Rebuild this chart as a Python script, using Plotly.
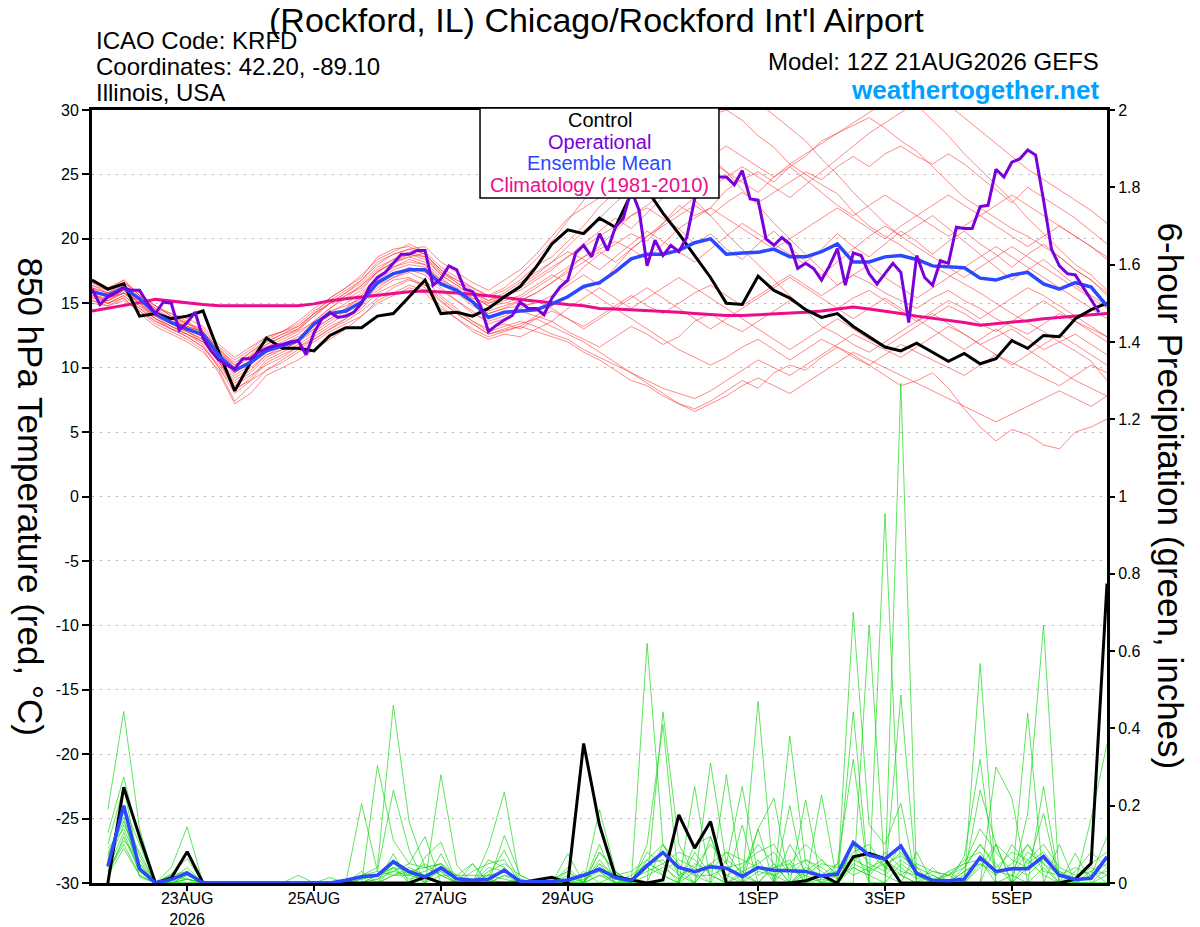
import pandas as pd
import plotly.graph_objects as go

# ---- data (6-hourly from 12Z 21 Aug 2026) ----
control_temp = [16.8, 16.1, 16.5, 14.0, 14.2, 13.8, 14.0, 14.4, 11.2, 8.2,
                10.4, 12.3, 11.5, 11.5, 11.3, 12.5, 13.1, 13.1, 14.0, 14.2,
                15.5, 16.8, 14.2, 14.3, 14.0, 14.6, 15.5, 16.3, 17.8, 19.6,
                20.7, 20.4, 21.6, 20.9, 23.5, 23.8, 22.0, 20.4, 18.7, 17.0,
                15.0, 14.9, 17.1, 16.0, 15.4, 14.5, 13.9, 14.2, 13.2, 12.4,
                11.6, 11.3, 11.9, 11.2, 10.5, 11.1, 10.3, 10.7, 12.1, 11.5,
                12.5, 12.4, 13.8, 14.5, 15.0]

mean_temp = [15.9, 15.6, 16.2, 15.35, 14.2, 13.5, 13.0, 12.55, 10.95, 9.8,
             10.4, 11.3, 11.7, 12.1, 13.4, 14.2, 14.4, 15.1, 16.6, 17.3,
             17.6, 17.6, 16.5, 16.0, 15.1, 13.9, 14.3, 14.4, 14.5, 14.95,
             15.5, 16.3, 16.6, 17.45, 18.45, 18.8, 18.8, 19.1, 19.7, 20.0,
             18.8, 18.9, 18.95, 19.2, 18.6, 18.6, 19.0, 19.6, 18.2, 18.2,
             18.6, 18.7, 18.4, 17.9, 17.8, 17.75, 16.95, 16.8, 17.2, 17.4,
             16.5, 16.1, 16.6, 16.25, 14.8]

clim_temp = [14.4, 14.6, 14.85, 15.05, 15.3, 15.15, 15.0, 14.9, 14.8, 14.8,
             14.8, 14.8, 14.8, 14.8, 14.95, 15.2, 15.35, 15.5, 15.6, 15.75,
             15.9, 15.95, 15.9, 15.8, 15.7, 15.6, 15.45, 15.3, 15.15, 15.0,
             14.9, 14.8, 14.6, 14.55, 14.5, 14.45, 14.4, 14.3, 14.2, 14.1,
             14.05, 14.05, 14.1, 14.15, 14.2, 14.3, 14.4, 14.55, 14.7, 14.55,
             14.4, 14.2, 14.0, 13.85, 13.65, 13.5, 13.3, 13.4, 13.55, 13.65,
             13.8, 13.9, 14.0, 14.1, 14.2]

# operational run is 3-hourly
oper_temp = [16.1, 14.9, 15.5, 15.8, 16.2, 16.0, 16.0, 15.0, 14.2, 15.1,
             15.0, 12.9, 13.5, 14.3, 12.3, 11.3, 10.6, 10.2, 9.9, 10.7,
             10.7, 11.2, 11.5, 11.7, 11.8, 12.0, 12.1, 11.0, 12.7, 13.8,
             14.3, 13.9, 14.0, 14.3, 15.0, 16.3, 17.0, 17.4, 18.1, 18.8,
             18.8, 19.1, 19.1, 16.4, 16.9, 17.9, 17.6, 16.1, 15.9, 14.8,
             12.8, 13.3, 13.7, 14.05, 15.1, 14.6, 14.6, 14.1, 15.4, 16.25,
             16.8, 18.9, 19.5, 18.6, 20.4, 19.1, 20.9, 21.6, 23.8, 22.2,
             17.9, 19.9, 18.7, 19.5, 19.0, 20.1, 23.1, 26.0, 27.0, 24.8,
             24.8, 24.2, 25.3, 23.1, 23.0, 20.0, 19.5, 20.1, 19.6, 17.7,
             18.1, 17.7, 16.8, 17.9, 19.25, 16.4, 18.9, 18.7, 17.3, 16.5,
             17.3, 18.1, 17.4, 13.5, 18.7, 17.0, 16.4, 18.3, 18.1, 20.9,
             20.8, 20.8, 22.5, 22.6, 25.4, 24.8, 25.95, 26.2, 26.9, 26.5,
             23.0, 19.2, 17.9, 17.3, 17.2, 16.25, 15.3, 14.3]

# ensemble members, 850 hPa temperature
temp_m01 = [16.2, 15.4, 16.0, 15.0, 14.5, 13.6, 13.2, 12.8, 11.5, 10.2, 10.9, 11.8, 12.4,
            12.9, 14.0, 15.0, 15.3, 16.0, 17.5, 18.1, 18.6, 18.9, 17.4, 16.8, 16.2, 15.5,
            16.0, 16.8, 17.9, 18.6, 19.8, 21.0, 22.5, 23.6, 24.8, 26.0, 27.2, 28.1, 29.0,
            29.6, 30.0, 29.2, 28.0, 27.1, 25.8, 25.0, 24.2, 23.5, 22.1, 21.0, 20.2, 19.5,
            18.6, 17.9, 17.2, 16.5, 15.8, 15.0, 14.2, 13.5, 12.8, 12.0, 11.3, 10.5, 9.0]
temp_m02 = [15.5, 15.0, 15.6, 14.6, 13.6, 13.0, 12.4, 11.6, 10.2, 8.6, 9.4, 10.2, 10.8,
            11.6, 12.2, 13.0, 13.8, 14.6, 15.8, 16.4, 16.9, 16.2, 15.1, 14.2, 13.4, 12.6,
            12.9, 13.2, 12.8, 12.4, 12.0, 11.2, 10.6, 9.8, 9.0, 8.6, 7.8, 7.2, 6.8,
            7.4, 8.2, 9.0, 8.4, 9.6, 10.2, 9.8, 10.8, 11.6, 11.0, 10.2, 9.4, 8.6,
            9.0, 9.6, 8.4, 6.8, 5.4, 4.3, 5.2, 4.8, 4.0, 3.7, 5.0, 5.4, 6.0]
temp_m03 = [16.8, 16.2, 16.6, 15.8, 14.8, 14.0, 13.5, 12.6, 11.0, 9.6, 10.6, 11.6, 12.2,
            12.8, 13.6, 14.6, 15.6, 16.4, 17.6, 18.4, 19.0, 18.6, 17.2, 16.4, 15.6, 14.8,
            15.2, 15.6, 16.4, 17.2, 16.6, 17.8, 18.8, 19.6, 20.4, 19.8, 21.2, 22.6, 21.8,
            22.4, 23.8, 24.6, 25.2, 24.4, 25.6, 26.4, 27.6, 28.2, 29.0, 29.8, 30.6, 31.2,
            30.4, 29.2, 28.0, 26.6, 25.4, 24.2, 23.0, 21.6, 20.4, 19.2, 18.0, 17.2, 16.0]
temp_m04 = [15.2, 14.8, 15.4, 14.2, 13.2, 12.6, 12.0, 11.2, 9.8, 7.4, 8.6, 9.8, 10.4,
            11.2, 12.0, 12.8, 13.4, 14.0, 15.0, 15.6, 16.2, 15.8, 14.6, 13.8, 12.8, 12.2,
            12.6, 12.4, 13.0, 13.6, 12.8, 12.2, 11.6, 12.4, 13.2, 12.6, 11.8, 12.4, 13.6,
            14.2, 13.4, 12.8, 13.6, 14.4, 15.2, 14.6, 13.8, 14.6, 15.4, 16.0, 15.2, 14.4,
            13.6, 14.2, 13.4, 12.6, 11.8, 12.4, 13.0, 12.2, 11.4, 12.0, 12.6, 11.8, 11.0]
temp_m05 = [16.4, 16.0, 16.8, 15.6, 14.6, 14.2, 13.8, 13.2, 11.8, 10.8, 11.6, 12.4, 12.8,
            13.4, 14.4, 15.2, 16.0, 16.8, 18.0, 18.8, 19.2, 19.4, 18.2, 17.4, 16.6, 16.0,
            16.8, 17.6, 18.8, 20.2, 21.6, 22.4, 23.2, 24.6, 23.8, 24.6, 25.4, 24.2, 23.0,
            21.8, 20.4, 19.2, 18.0, 16.8, 15.6, 14.4, 13.2, 12.6, 11.8, 11.2, 12.0, 12.8,
            13.6, 14.4, 15.2, 14.6, 13.8, 14.6, 15.4, 16.2, 15.6, 14.8, 14.0, 13.2, 12.4]
temp_m06 = [15.8, 15.2, 16.0, 15.0, 14.0, 13.2, 12.8, 12.2, 10.4, 9.0, 9.8, 11.0, 11.6,
            12.2, 13.0, 13.8, 14.6, 15.6, 17.0, 17.8, 18.2, 18.0, 16.6, 15.8, 15.0, 14.4,
            14.8, 15.2, 15.8, 16.6, 17.6, 18.6, 19.4, 20.6, 21.8, 22.6, 23.6, 24.4, 25.2,
            26.0, 25.2, 24.4, 23.6, 24.8, 25.8, 26.6, 27.4, 28.2, 28.8, 29.4, 28.6, 27.6,
            26.8, 25.6, 24.4, 23.2, 22.4, 21.6, 20.8, 20.2, 19.4, 18.6, 17.6, 16.8, 15.8]
temp_m07 = [16.0, 15.6, 16.4, 15.2, 14.4, 13.8, 13.0, 12.4, 11.0, 9.4, 10.2, 11.4, 11.6,
            12.2, 13.4, 14.4, 14.8, 15.4, 16.8, 17.6, 18.0, 17.8, 16.8, 16.2, 15.2, 14.2,
            14.6, 14.8, 15.0, 15.6, 16.4, 17.2, 16.4, 17.8, 19.2, 18.4, 19.6, 20.8, 19.6,
            20.4, 19.2, 18.4, 19.6, 20.6, 19.4, 18.2, 19.2, 20.4, 19.4, 18.6, 19.6, 20.6,
            19.8, 18.8, 19.8, 20.6, 19.6, 18.8, 17.8, 18.8, 19.6, 18.6, 17.6, 16.8, 15.6]
temp_m08 = [15.4, 15.2, 15.8, 14.8, 14.0, 13.4, 12.8, 12.0, 10.6, 8.2, 9.2, 10.6, 11.2,
            11.8, 12.6, 13.4, 14.2, 15.2, 16.4, 17.0, 17.4, 16.8, 15.6, 14.6, 13.6, 12.8,
            13.2, 13.6, 13.2, 12.6, 12.2, 11.4, 10.8, 10.2, 9.6, 9.0, 8.4, 8.0, 7.6,
            8.2, 9.0, 9.8, 10.6, 10.0, 9.4, 10.2, 11.0, 11.8, 12.6, 12.0, 11.4, 10.8,
            11.6, 12.4, 13.2, 12.6, 11.8, 11.0, 10.2, 11.0, 11.8, 12.6, 11.8, 11.0, 10.2]
temp_m09 = [16.6, 16.0, 16.4, 15.4, 14.6, 13.8, 13.4, 12.8, 11.2, 10.0, 11.0, 12.0, 12.6,
            13.2, 14.2, 15.4, 16.2, 17.2, 18.4, 19.0, 19.6, 19.0, 17.8, 17.0, 16.2, 15.6,
            16.2, 17.2, 18.4, 19.8, 21.4, 23.0, 24.6, 26.0, 27.4, 28.4, 29.2, 28.6, 27.6,
            26.4, 25.2, 23.8, 22.6, 21.2, 20.0, 18.8, 17.6, 16.4, 17.2, 18.0, 17.0, 16.2,
            15.4, 16.2, 17.0, 17.8, 18.6, 19.4, 18.6, 17.8, 17.0, 16.2, 15.4, 14.6, 13.8]
temp_m10 = [15.6, 15.4, 15.8, 15.0, 13.8, 13.0, 12.6, 11.8, 10.0, 8.0, 9.0, 10.4, 11.0,
            11.6, 12.4, 13.2, 13.8, 14.8, 16.0, 16.8, 17.0, 16.4, 15.4, 14.4, 13.6, 13.0,
            13.4, 13.0, 13.8, 14.4, 13.8, 13.2, 14.0, 14.8, 15.6, 14.8, 14.2, 15.0, 15.8,
            16.4, 15.6, 14.8, 15.6, 16.4, 17.2, 16.4, 15.6, 16.4, 17.2, 16.6, 15.8, 15.2,
            14.6, 15.4, 16.0, 15.2, 14.6, 13.8, 13.2, 12.6, 13.4, 14.2, 13.6, 13.0, 12.4]
temp_m11 = [16.2, 15.8, 16.2, 15.4, 14.2, 13.6, 13.2, 12.6, 11.4, 10.4, 11.2, 12.2, 12.8,
            13.2, 14.2, 15.0, 15.8, 16.6, 17.8, 18.4, 18.8, 18.4, 17.2, 16.4, 15.4, 14.8,
            15.0, 15.4, 16.2, 17.0, 17.8, 18.6, 19.2, 19.8, 19.2, 20.2, 21.0, 21.8, 22.6,
            21.8, 22.8, 23.6, 22.8, 23.6, 24.4, 25.2, 24.6, 25.6, 26.4, 25.6, 26.6, 27.2,
            26.4, 25.8, 26.6, 25.8, 24.8, 23.8, 22.8, 24.0, 23.2, 22.4, 21.6, 20.6, 19.6]
temp_m12 = [15.0, 14.8, 15.2, 14.4, 13.4, 12.8, 12.2, 11.4, 9.6, 7.2, 8.0, 9.4, 10.0,
            10.6, 11.4, 12.2, 13.0, 14.0, 15.2, 15.8, 16.4, 16.0, 14.8, 13.8, 13.0, 12.4,
            12.8, 13.2, 14.0, 14.8, 15.6, 16.2, 15.4, 14.6, 13.8, 13.0, 12.2, 11.4, 10.8,
            10.2, 10.8, 11.6, 12.2, 11.4, 10.6, 11.4, 12.2, 11.6, 10.8, 10.2, 11.0, 11.8,
            11.2, 10.6, 10.0, 9.4, 10.2, 11.0, 10.4, 9.8, 9.2, 8.6, 9.4, 10.2, 9.6]
temp_m13 = [16.0, 15.4, 15.8, 15.2, 14.4, 13.6, 12.8, 12.2, 10.8, 9.8, 10.6, 11.4, 12.0,
            12.6, 13.6, 14.6, 15.4, 16.4, 17.4, 18.2, 18.6, 18.2, 17.0, 16.0, 15.4, 15.0,
            15.6, 16.4, 17.2, 18.2, 19.4, 20.6, 21.6, 22.8, 23.8, 25.0, 26.2, 27.4, 28.6,
            29.4, 30.4, 31.0, 30.6, 29.6, 28.6, 27.6, 26.2, 25.0, 23.6, 22.4, 21.2, 20.2,
            21.0, 21.8, 20.8, 19.8, 18.8, 17.8, 16.8, 17.6, 18.4, 17.4, 16.4, 15.6, 14.8]
temp_m14 = [15.8, 15.0, 15.6, 14.6, 13.8, 13.2, 12.6, 12.0, 10.4, 8.8, 9.6, 10.8, 11.4,
            12.0, 12.8, 13.6, 14.4, 15.0, 16.2, 17.0, 17.6, 17.2, 16.0, 15.2, 14.4, 13.4,
            13.8, 14.4, 14.0, 13.6, 14.6, 15.4, 16.2, 15.4, 14.6, 15.4, 16.2, 17.0, 16.2,
            15.4, 14.6, 13.8, 13.0, 12.2, 11.4, 12.2, 13.0, 13.8, 13.0, 12.2, 11.6, 12.4,
            13.2, 14.0, 14.8, 14.2, 13.4, 12.8, 13.6, 14.4, 15.2, 14.4, 13.6, 12.8, 12.0]
temp_m15 = [16.4, 15.8, 16.6, 15.6, 14.8, 14.0, 13.4, 13.0, 11.6, 10.6, 11.4, 12.4, 12.8,
            13.6, 14.6, 15.4, 16.2, 17.0, 18.6, 19.2, 19.4, 18.8, 17.6, 16.8, 16.0, 15.2,
            15.6, 16.0, 16.8, 17.6, 18.6, 19.4, 20.2, 21.0, 21.8, 22.4, 21.6, 20.8, 21.6,
            22.4, 21.6, 20.8, 20.0, 19.2, 20.0, 20.8, 21.6, 22.4, 21.6, 20.8, 20.0, 21.0,
            21.8, 22.6, 23.4, 22.6, 21.8, 21.0, 20.2, 19.4, 20.2, 21.0, 20.2, 19.4, 18.6]
temp_m16 = [15.2, 15.0, 15.4, 14.4, 13.6, 13.0, 12.4, 11.6, 10.0, 8.4, 9.0, 9.8, 10.6,
            11.4, 12.2, 13.0, 13.6, 14.4, 15.4, 16.2, 16.8, 16.4, 15.2, 14.2, 13.4, 12.6,
            13.0, 13.4, 13.8, 13.2, 12.6, 12.0, 11.2, 10.4, 9.6, 8.8, 8.0, 7.2, 6.6,
            7.2, 7.8, 8.6, 9.2, 8.6, 8.0, 8.8, 9.6, 10.4, 11.2, 10.6, 10.0, 9.4,
            8.8, 8.2, 7.6, 7.0, 6.4, 5.8, 6.4, 7.0, 7.6, 8.2, 7.6, 7.0, 7.8]
temp_m17 = [16.6, 16.2, 16.8, 15.6, 14.8, 14.2, 13.6, 12.8, 11.2, 10.2, 11.2, 12.0, 12.6,
            13.0, 14.0, 15.0, 15.8, 16.8, 18.2, 18.8, 19.2, 18.8, 17.6, 16.6, 15.8, 15.2,
            15.8, 16.6, 17.4, 18.2, 19.0, 18.4, 17.6, 18.6, 19.6, 20.6, 19.8, 19.0, 18.2,
            19.2, 20.2, 21.2, 20.4, 19.6, 18.8, 18.0, 17.2, 18.2, 19.2, 20.2, 21.0, 20.2,
            19.4, 18.6, 17.8, 17.0, 17.8, 18.6, 19.4, 18.6, 17.8, 17.0, 16.2, 15.4, 14.6]
temp_m18 = [16.0, 15.6, 16.2, 15.0, 14.0, 13.4, 13.0, 12.4, 11.0, 9.6, 10.4, 11.2, 11.8,
            12.4, 13.2, 14.2, 15.0, 15.8, 17.0, 17.8, 18.4, 18.0, 16.8, 15.8, 14.8, 14.2,
            14.6, 15.2, 15.8, 16.6, 17.4, 18.2, 19.0, 18.2, 19.2, 20.2, 21.2, 22.2, 23.2,
            24.0, 24.8, 25.6, 24.8, 24.0, 23.2, 24.2, 25.2, 26.2, 27.2, 28.2, 29.0, 29.8,
            30.6, 31.2, 30.4, 29.4, 28.4, 27.4, 26.4, 25.4, 24.6, 23.8, 23.0, 22.2, 21.2]
temp_m19 = [15.6, 15.2, 15.8, 14.8, 13.8, 13.2, 12.6, 12.0, 10.6, 9.2, 10.0, 11.0, 11.4,
            12.0, 13.0, 13.8, 14.6, 15.4, 16.6, 17.2, 17.8, 17.4, 16.2, 15.2, 14.2, 13.6,
            14.0, 14.6, 15.2, 14.6, 13.8, 13.0, 13.8, 14.6, 15.4, 16.2, 15.4, 14.6, 13.8,
            13.0, 13.8, 14.6, 15.4, 16.2, 17.0, 16.2, 15.4, 14.6, 13.8, 14.6, 15.4, 14.6,
            13.8, 13.0, 12.2, 11.4, 12.2, 13.0, 12.2, 11.4, 10.6, 9.8, 9.0, 8.4, 7.8]
temp_m20 = [16.2, 15.8, 16.4, 15.4, 14.4, 13.8, 13.2, 12.8, 11.4, 10.0, 10.8, 11.8, 12.4,
            13.0, 14.2, 15.0, 15.6, 16.2, 17.4, 18.2, 18.8, 18.6, 17.4, 16.6, 15.8, 15.0,
            15.4, 16.2, 17.0, 17.8, 18.6, 19.6, 20.6, 21.6, 20.8, 22.0, 23.2, 24.4, 25.6,
            26.4, 27.2, 26.4, 25.6, 24.8, 25.6, 24.6, 23.6, 22.6, 21.8, 22.6, 23.4, 22.6,
            21.8, 21.0, 20.2, 21.0, 21.8, 22.6, 23.4, 22.6, 21.8, 21.0, 20.2, 19.4, 18.4]

# 6-hour precipitation (inches), valid from 18Z 21 Aug
control_prcp = [0, 0.248, 0.12, 0, 0.013, 0.081, 0, 0, 0, 0, 0, 0, 0, 0, 0, 0,
                0, 0, 0, 0, 0.015, 0, 0, 0, 0, 0, 0, 0.008, 0.015, 0, 0.361, 0.15,
                0.017, 0.008, 0, 0.008, 0.176, 0.09, 0.159, 0, 0, 0, 0, 0, 0.006, 0.02, 0, 0.068,
                0.077, 0.063, 0, 0, 0, 0, 0, 0, 0, 0, 0, 0, 0, 0.01, 0.051, 0.775]
mean_prcp = [0.043, 0.2, 0.037, 0, 0.009, 0.026, 0, 0, 0, 0, 0, 0, 0, 0, 0, 0.007,
             0.016, 0.02, 0.055, 0.029, 0.016, 0.039, 0.011, 0.007, 0.01, 0.033, 0.004, 0.003, 0.004, 0.008, 0.02, 0.036,
             0.014, 0.006, 0.045, 0.079, 0.04, 0.029, 0.042, 0.038, 0.017, 0.04, 0.033, 0.032, 0.03, 0.018, 0.023, 0.105,
             0.072, 0.062, 0.096, 0.025, 0.007, 0.006, 0.01, 0.066, 0.03, 0.037, 0.037, 0.069, 0.02, 0.009, 0.012, 0.068]

prcp_m01 = [0.19, 0.444, 0.14, 0, 0.04, 0.145, 0, 0, 0, 0, 0, 0, 0.02, 0, 0, 0,
            0.02, 0.04, 0.46, 0.158, 0.04, 0.05, 0, 0, 0.02, 0.085, 0, 0, 0.01, 0.03, 0, 0.05,
            0, 0, 0.62, 0.1, 0.02, 0, 0.05, 0, 0.02, 0.14, 0, 0.05, 0, 0.01, 0, 0.70,
            0.15, 0.1, 0.206, 0, 0, 0, 0.02, 0.24, 0.1, 0, 0.04, 0.18, 0, 0, 0.02, 0.12]
prcp_m02 = [0.13, 0.274, 0.11, 0, 0.024, 0.063, 0, 0, 0, 0, 0, 0, 0, 0, 0.014, 0,
            0.205, 0.03, 0.24, 0.085, 0, 0.28, 0.046, 0, 0, 0.02, 0, 0, 0, 0, 0.03, 0,
            0.02, 0, 0, 0.443, 0.1, 0.02, 0, 0.28, 0, 0, 0, 0.38, 0.05, 0, 0, 0.1,
            0, 0.956, 0.02, 0, 0.04, 0, 0, 0, 0.3, 0.22, 0, 0, 0.1, 0, 0, 0]
prcp_m03 = [0.10, 0.248, 0.04, 0, 0.011, 0.024, 0, 0, 0, 0, 0, 0, 0, 0, 0, 0.006,
            0, 0.304, 0.11, 0.05, 0.12, 0, 0, 0.05, 0, 0, 0.01, 0, 0, 0.076, 0, 0.19,
            0.03, 0, 0.1, 0.41, 0, 0.25, 0, 0, 0, 0.47, 0, 0, 0.215, 0, 0, 0,
            0.667, 0.02, 0, 0.08, 0, 0.03, 0, 0.568, 0, 0, 0.44, 0, 0, 0.077, 0, 0]
prcp_m04 = [0.076, 0.17, 0.015, 0, 0, 0.011, 0, 0, 0, 0, 0, 0, 0, 0, 0, 0,
            0.03, 0, 0.076, 0, 0.067, 0.106, 0, 0, 0.093, 0.235, 0, 0, 0, 0, 0, 0.1,
            0, 0.01, 0, 0.1, 0.05, 0, 0.31, 0.05, 0, 0.14, 0.22, 0, 0, 0.228, 0, 0.443,
            0, 0, 1.293, 0, 0, 0, 0.07, 0.32, 0, 0, 0.18, 0.667, 0, 0, 0.167, 0.36]
prcp_m05 = [0.05, 0.15, 0.08, 0, 0, 0, 0, 0, 0, 0, 0, 0, 0, 0, 0, 0,
            0, 0, 0.04, 0, 0, 0.076, 0, 0, 0, 0.123, 0.02, 0, 0, 0, 0, 0,
            0, 0, 0, 0, 0, 0, 0.12, 0, 0.15, 0, 0, 0.2, 0, 0, 0.05, 0.32,
            0, 0, 0.486, 0, 0, 0, 0, 0, 0.1, 0, 0, 0.25, 0, 0, 0, 0]
prcp_m06 = [0.03, 0.11, 0.06, 0, 0, 0.01, 0, 0, 0, 0, 0, 0, 0, 0, 0, 0,
            0.01, 0.02, 0.04, 0.03, 0, 0.02, 0, 0, 0.01, 0, 0, 0, 0, 0.02, 0, 0.06,
            0.01, 0, 0.04, 0.02, 0, 0.08, 0.02, 0, 0.03, 0, 0.05, 0, 0.02, 0, 0, 0.04,
            0.02, 0, 0.05, 0.02, 0, 0, 0.03, 0.06, 0, 0.02, 0, 0.04, 0, 0, 0.03, 0]
prcp_m07 = [0.06, 0.2, 0.1, 0, 0.02, 0.03, 0, 0, 0, 0, 0, 0, 0, 0, 0, 0,
            0, 0.02, 0.03, 0.05, 0.04, 0.02, 0, 0.03, 0.05, 0.06, 0, 0, 0, 0, 0.01, 0.03,
            0, 0, 0.06, 0.1, 0.03, 0, 0.05, 0.08, 0.02, 0, 0.04, 0.06, 0, 0.02, 0.05, 0.02,
            0.04, 0.06, 0.02, 0, 0.02, 0, 0.04, 0.1, 0.05, 0, 0.06, 0.02, 0, 0, 0.02, 0.05]
prcp_m08 = [0.04, 0.13, 0.03, 0, 0, 0.02, 0, 0, 0, 0, 0, 0, 0, 0, 0, 0,
            0, 0.01, 0.05, 0.02, 0.03, 0.05, 0.01, 0, 0.04, 0.03, 0, 0, 0, 0.01, 0.02, 0.04,
            0.02, 0.01, 0.03, 0.05, 0.08, 0.06, 0.02, 0, 0, 0.03, 0.02, 0.04, 0.06, 0.03, 0, 0.05,
            0.03, 0.05, 0.07, 0.04, 0, 0.02, 0, 0.05, 0.03, 0.04, 0.02, 0.06, 0.03, 0, 0, 0.04]
prcp_m09 = [0.02, 0.089, 0.02, 0, 0, 0, 0, 0, 0, 0, 0, 0, 0, 0, 0, 0,
            0, 0, 0.02, 0.02, 0.01, 0.03, 0, 0, 0, 0.04, 0, 0, 0, 0, 0, 0.02,
            0, 0, 0.02, 0.04, 0.01, 0.05, 0.03, 0.08, 0.06, 0.04, 0.02, 0, 0.03, 0.06, 0.02, 0.1,
            0.05, 0.03, 0.1, 0.04, 0.02, 0, 0, 0.04, 0.1, 0.06, 0.04, 0.07, 0.02, 0.04, 0.02, 0.03]
prcp_m10 = [0.07, 0.16, 0.05, 0, 0.01, 0.04, 0, 0, 0, 0, 0, 0, 0, 0, 0, 0,
            0.01, 0.02, 0.06, 0.03, 0, 0.04, 0.02, 0.05, 0, 0.02, 0.01, 0, 0, 0.03, 0, 0.08,
            0.03, 0, 0.08, 0.05, 0, 0.1, 0.12, 0.02, 0, 0.06, 0, 0.1, 0.03, 0, 0.02, 0.08,
            0.1, 0.04, 0.08, 0.02, 0, 0.03, 0.05, 0.14, 0.08, 0.03, 0.1, 0.05, 0, 0.03, 0.08, 0.04]
prcp_m11 = [0.05, 0.19, 0.07, 0, 0, 0.02, 0, 0, 0, 0, 0, 0, 0, 0, 0, 0,
            0, 0, 0.02, 0.04, 0.02, 0, 0, 0, 0.03, 0.05, 0.02, 0, 0, 0, 0.02, 0.03,
            0, 0.02, 0.05, 0.03, 0.06, 0.04, 0, 0.06, 0.03, 0.05, 0.08, 0.02, 0.06, 0.04, 0.01, 0.07,
            0.03, 0.08, 0.04, 0.01, 0.03, 0.02, 0.06, 0.08, 0.02, 0.1, 0.05, 0.08, 0.03, 0.01, 0.05, 0.08]
prcp_m12 = [0.02, 0.12, 0.03, 0, 0, 0, 0, 0, 0, 0, 0, 0, 0, 0, 0, 0,
            0, 0.02, 0.04, 0.01, 0.02, 0.03, 0, 0.01, 0.02, 0.01, 0, 0, 0, 0, 0, 0.05,
            0.02, 0.03, 0.06, 0.02, 0, 0.03, 0.05, 0.02, 0.04, 0.1, 0.05, 0, 0.04, 0.02, 0.03, 0.06,
            0.04, 0.02, 0.06, 0.03, 0.01, 0, 0.03, 0.05, 0.02, 0.05, 0.1, 0.03, 0.02, 0, 0, 0.02]
prcp_m13 = [0.09, 0.14, 0.05, 0, 0.02, 0.01, 0, 0, 0, 0, 0, 0, 0, 0, 0, 0,
            0.02, 0.03, 0.02, 0.03, 0.04, 0.05, 0.02, 0, 0.06, 0.04, 0, 0, 0, 0.04, 0, 0.08,
            0.03, 0, 0.05, 0.06, 0.02, 0.04, 0.1, 0.05, 0.25, 0.02, 0.04, 0.05, 0.1, 0.06, 0.02, 0.04,
            0.02, 0.06, 0.03, 0.02, 0.01, 0.02, 0.04, 0.1, 0.04, 0.08, 0.06, 0.1, 0.04, 0.02, 0.03, 0.06]
prcp_m14 = [0.03, 0.1, 0.02, 0, 0, 0.01, 0, 0, 0, 0, 0, 0, 0, 0, 0, 0,
            0, 0.01, 0.03, 0.02, 0.05, 0.02, 0.02, 0.02, 0.02, 0.03, 0, 0, 0, 0, 0, 0.02,
            0.01, 0, 0.04, 0.08, 0.04, 0.02, 0.02, 0.04, 0.05, 0.08, 0.1, 0.03, 0.02, 0.05, 0.04, 0.06,
            0.08, 0.04, 0.02, 0.05, 0.03, 0.02, 0.05, 0.06, 0.03, 0.02, 0.08, 0.05, 0.02, 0.01, 0.04, 0.02]

temp_members = [temp_m01, temp_m02, temp_m03, temp_m04, temp_m05, temp_m06, temp_m07,
                temp_m08, temp_m09, temp_m10, temp_m11, temp_m12, temp_m13, temp_m14,
                temp_m15, temp_m16, temp_m17, temp_m18, temp_m19, temp_m20]
prcp_members = [prcp_m01, prcp_m02, prcp_m03, prcp_m04, prcp_m05, prcp_m06, prcp_m07,
                prcp_m08, prcp_m09, prcp_m10, prcp_m11, prcp_m12, prcp_m13, prcp_m14]

# axis ticks
x_tick_dates = ["2026-08-23", "2026-08-25", "2026-08-27", "2026-08-29",
                "2026-09-01", "2026-09-03", "2026-09-05"]
x_tick_text = ["23AUG<br>2026", "25AUG", "27AUG", "29AUG", "1SEP", "3SEP", "5SEP"]
temp_ticks = [-30, -25, -20, -15, -10, -5, 0, 5, 10, 15, 20, 25, 30]
temp_tick_text = ["-30", "-25", "-20", "-15", "-10", "-5", "0", "5", "10", "15", "20", "25", "30"]
prcp_ticks = [0, 0.2, 0.4, 0.6, 0.8, 1.0, 1.2, 1.4, 1.6, 1.8, 2.0]
prcp_tick_text = ["0", "0.2", "0.4", "0.6", "0.8", "1", "1.2", "1.4", "1.6", "1.8", "2"]

# time axes
t_temp = pd.date_range("2026-08-21 12:00", periods=len(control_temp), freq="6h")
t_oper = pd.date_range("2026-08-21 12:00", periods=len(oper_temp), freq="3h")
t_prcp = pd.date_range("2026-08-21 18:00", periods=len(control_prcp), freq="6h")

FONT = "Liberation Sans, Arial, Helvetica, sans-serif"
RED = "rgba(255,45,45,0.7)"
GREEN = "rgba(20,215,20,0.85)"
PURPLE = "#7A00DC"
BLUE = "#2A48FF"
PINK = "#EC0C8C"

fig = go.Figure()

# spaghetti
for m in temp_members:
    fig.add_trace(go.Scatter(x=t_temp, y=m, mode="lines", line=dict(color=RED, width=0.8),
                             showlegend=False, hoverinfo="skip"))
for m in prcp_members:
    fig.add_trace(go.Scatter(x=t_prcp, y=m, mode="lines", line=dict(color=GREEN, width=0.8),
                             yaxis="y2", showlegend=False, hoverinfo="skip"))

# precip control / mean
fig.add_trace(go.Scatter(x=t_prcp, y=control_prcp, mode="lines", yaxis="y2",
                         line=dict(color="black", width=3), showlegend=False))
fig.add_trace(go.Scatter(x=t_prcp, y=mean_prcp, mode="lines", yaxis="y2",
                         line=dict(color=BLUE, width=3.5), showlegend=False))

# temperature lines
fig.add_trace(go.Scatter(x=t_temp, y=clim_temp, mode="lines",
                         line=dict(color=PINK, width=3), showlegend=False))
fig.add_trace(go.Scatter(x=t_temp, y=control_temp, mode="lines",
                         line=dict(color="black", width=3), showlegend=False))
fig.add_trace(go.Scatter(x=t_temp, y=mean_temp, mode="lines",
                         line=dict(color=BLUE, width=3.5), showlegend=False))
fig.add_trace(go.Scatter(x=t_oper, y=oper_temp, mode="lines",
                         line=dict(color=PURPLE, width=3), showlegend=False))

# legend box drawn by hand (text only, no symbols)
fig.add_shape(type="rect", xref="paper", yref="paper", x0=0.3823, x1=0.6177,
              y0=0.8862, y1=1.0026, fillcolor="white", line=dict(color="black", width=1.5),
              layer="above")
legend_rows = [("Control", "black", 0.987), ("Operational", PURPLE, 0.9586),
               ("Ensemble Mean", BLUE, 0.9314), ("Climatology (1981-2010)", PINK, 0.903)]
for txt, col, yy in legend_rows:
    fig.add_annotation(text=txt, x=0.5, y=yy, xref="paper", yref="paper", showarrow=False,
                       font=dict(size=20, color=col, family=FONT), xanchor="center", yanchor="middle")

# header texts
fig.add_annotation(text="(Rockford, IL) Chicago/Rockford Int'l Airport", x=0.497, y=1.1165,
                   xref="paper", yref="paper", showarrow=False, xanchor="center", yanchor="middle",
                   font=dict(size=34, color="black", family=FONT))
for txt, yy in [("ICAO Code: KRFD", 1.0905), ("Coordinates: 42.20, -89.10", 1.0569),
                ("Illinois, USA", 1.022)]:
    fig.add_annotation(text=txt, x=0.002, y=yy, xref="paper", yref="paper", showarrow=False,
                       xanchor="left", yanchor="middle", font=dict(size=24, color="black", family=FONT))
fig.add_annotation(text="Model: 12Z 21AUG2026 GEFS", x=0.994, y=1.0621, xref="paper", yref="paper",
                   showarrow=False, xanchor="right", yanchor="middle",
                   font=dict(size=24, color="black", family=FONT))
fig.add_annotation(text="<b>weathertogether.net</b>", x=0.994, y=1.0259, xref="paper", yref="paper",
                   showarrow=False, xanchor="right", yanchor="middle",
                   font=dict(size=26, color="#00A2FF", family=FONT))

# axis titles (both read top to bottom)
fig.add_annotation(text="850 hPa Temperature (red, °C)", x=-0.0601, y=0.5, xref="paper", yref="paper",
                   showarrow=False, textangle=90, xanchor="center", yanchor="middle",
                   font=dict(size=35, color="black", family=FONT))
fig.add_annotation(text="6-hour Precipitation (green, inches)", x=1.063, y=0.5, xref="paper",
                   yref="paper", showarrow=False, textangle=90, xanchor="center", yanchor="middle",
                   font=dict(size=35, color="black", family=FONT))

# page body has an 8px margin, so the figure is 8px smaller than the window
fig.update_layout(
    width=1192, height=919,
    margin=dict(l=84, r=93, t=102, b=44),
    paper_bgcolor="white", plot_bgcolor="white",
    font=dict(family=FONT, color="black"),
    showlegend=False,
    xaxis=dict(type="date", range=["2026-08-21 12:00", "2026-09-06 12:00"],
               tickmode="array", tickvals=x_tick_dates, ticktext=x_tick_text,
               ticks="outside", ticklen=5, tickwidth=1.5, tickcolor="black",
               ticklabelstandoff=-6,
               showline=True, linewidth=3, linecolor="black", mirror=True,
               showgrid=False, zeroline=False, automargin=False,
               tickfont=dict(size=16, color="black", family=FONT)),
    yaxis=dict(range=[-30, 30], tickmode="array", tickvals=temp_ticks, ticktext=temp_tick_text,
               ticks="outside", ticklen=7, tickwidth=2, tickcolor="black",
               showline=True, linewidth=3, linecolor="black", mirror=True,
               showgrid=True, gridcolor="#b4b4b4", gridwidth=1, griddash="2px,6px",
               zeroline=False, automargin=False,
               tickfont=dict(size=16, color="black", family=FONT)),
    yaxis2=dict(range=[0, 2], overlaying="y", side="right", tickmode="array",
                tickvals=prcp_ticks, ticktext=prcp_tick_text,
                ticks="outside", ticklen=7, tickwidth=2, tickcolor="black",
                showline=False, showgrid=False, zeroline=False, automargin=False,
                tickfont=dict(size=16, color="black", family=FONT)),
)

fig.write_html("out.html")
